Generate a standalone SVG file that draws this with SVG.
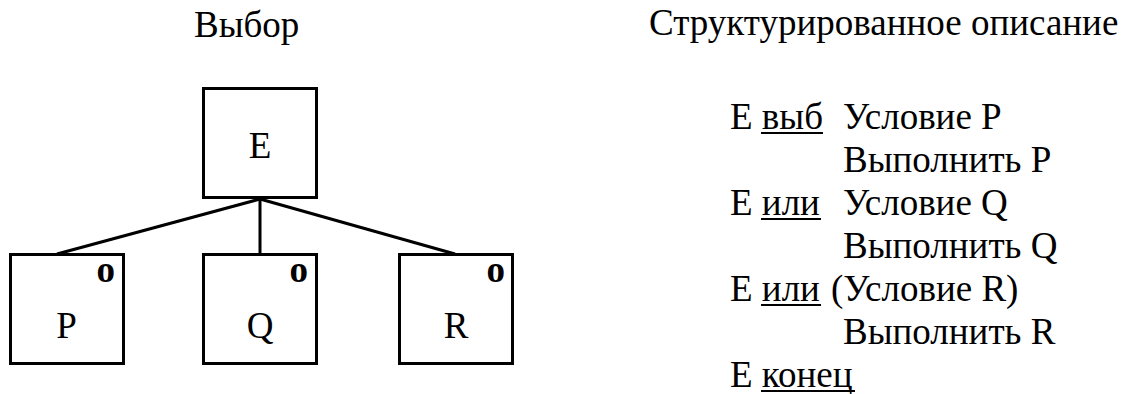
<svg xmlns="http://www.w3.org/2000/svg" width="1132" height="394" viewBox="0 0 1132 394" font-family="'Liberation Serif', 'Times New Roman', 'DejaVu Serif', serif">
<style>
text{font-family:'Liberation Serif','Times New Roman','DejaVu Serif',serif;font-size:37px;fill:#000}
.c{text-anchor:middle}
.o{font-weight:bold;text-anchor:end}
.box{fill:#fff;stroke:#000;stroke-width:3}
.con line{stroke:#000;stroke-width:3;stroke-linecap:butt}
.ul{stroke:#000;stroke-width:2}
</style>
<rect width="1132" height="394" fill="#fff"/>
<text id="title-left" x="194" y="37">Выбор</text>
<text id="title-right" x="649" y="35">Структурированное описание</text>
<g id="connectors" class="con">
<line x1="260" y1="199" x2="57" y2="254"/>
<line x1="260" y1="199" x2="260" y2="254"/>
<line x1="260" y1="199" x2="455" y2="254"/>
</g>
<g id="node-E">
<rect class="box" x="203.5" y="88.5" width="113" height="109"/>
<text class="c" x="260" y="158">E</text>
</g>
<g id="node-P">
<rect class="box" x="10.5" y="254.5" width="113" height="109"/>
<text class="o" x="115" y="282">o</text>
<text class="c" x="66.5" y="338">P</text>
</g>
<g id="node-Q">
<rect class="box" x="203.5" y="254.5" width="113" height="109"/>
<text class="o" x="308" y="282">o</text>
<text class="c" x="260" y="338">Q</text>
</g>
<g id="node-R">
<rect class="box" x="399.5" y="254.5" width="113" height="109"/>
<text class="o" x="505" y="282">o</text>
<text class="c" x="456" y="338">R</text>
</g>
<g id="description">
<text x="730" y="129">Е выб</text>
<line class="ul" x1="761" y1="133" x2="823" y2="133"/>
<text x="843" y="129">Условие P</text>
<text x="843" y="172">Выполнить P</text>
<text x="730" y="215">Е или</text>
<line class="ul" x1="761" y1="219" x2="821" y2="219"/>
<text x="843" y="215">Условие Q</text>
<text x="843" y="258">Выполнить Q</text>
<text x="730" y="301">Е или</text>
<line class="ul" x1="761" y1="305" x2="821" y2="305"/>
<text x="831" y="301">(Условие R)</text>
<text x="843" y="344">Выполнить R</text>
<text x="730" y="387">Е конец</text>
<line class="ul" x1="761" y1="391" x2="855" y2="391"/>
</g>
</svg>
